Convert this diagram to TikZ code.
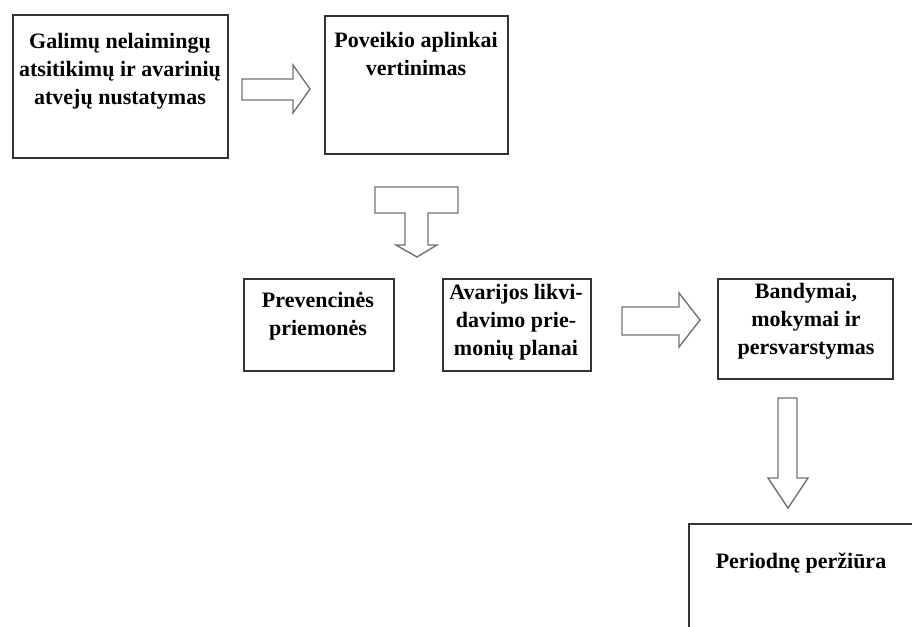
\documentclass[tikz,border=0pt]{standalone}
\usepackage{fontspec}
\setmainfont{Liberation Serif}
\begin{document}
\begin{tikzpicture}[x=1pt,y=-1pt,
    box/.style={draw=black!80, line width=1.8pt, anchor=north west, inner sep=0pt},
    txt/.style={anchor=north, align=center, inner sep=0pt, font=\bfseries\fontsize{22}{28}\selectfont},
    blockarrow/.style={draw=black!55, line width=1.4pt, line join=miter}]
    \useasboundingbox (0,0) rectangle (912,626);
    \clip (0,0) rectangle (912,626);
    % boxes
    \node[box, minimum width=215, minimum height=143] (ident) at (12,14) {};
    \node[box, minimum width=183, minimum height=138] (impact) at (324,15) {};
    \node[box, minimum width=150, minimum height=92] (prevent) at (243,278) {};
    \node[box, minimum width=148, minimum height=92] (plans) at (442,278) {};
    \node[box, minimum width=175, minimum height=100] (tests) at (717,278) {};
    \node[box, minimum width=260, minimum height=140] (review) at (688,523) {};
    % texts
    \node[txt] (identtxt) at (120,33) {Galimų nelaimingų\\atsitikimų ir avarinių\\atvejų nustatymas};
    \node[txt] (impacttxt) at (416,32) {Poveikio aplinkai\\vertinimas};
    \node[txt] (preventtxt) at (318,292) {Prevencinės\\priemonės};
    \node[txt] (planstxt) at (516,284) {Avarijos likvi-\\davimo prie-\\monių planai};
    \node[txt] (teststxt) at (806,283) {Bandymai,\\mokymai ir\\persvarstymas};
    \node[txt] (reviewtxt) at (801,553) {Periodnę peržiūra};
    % block arrows
    \draw[blockarrow] (242,79) -- (293,79) -- (293,65) -- (310,89) -- (293,113) -- (293,100) -- (242,100) -- cycle;
    \draw[blockarrow] (375,187) -- (458,187) -- (458,213) -- (428,213) -- (428,245) -- (437,245) -- (417,257)
        -- (396,245) -- (405,245) -- (405,213) -- (375,213) -- cycle;
    \draw[blockarrow] (622,307) -- (679,307) -- (679,293) -- (700,320) -- (679,347) -- (679,335) -- (622,335) -- cycle;
    \draw[blockarrow] (778,398) -- (797,398) -- (797,478) -- (808,478) -- (788,508) -- (768,478) -- (778,478) -- cycle;
\end{tikzpicture}
\end{document}
